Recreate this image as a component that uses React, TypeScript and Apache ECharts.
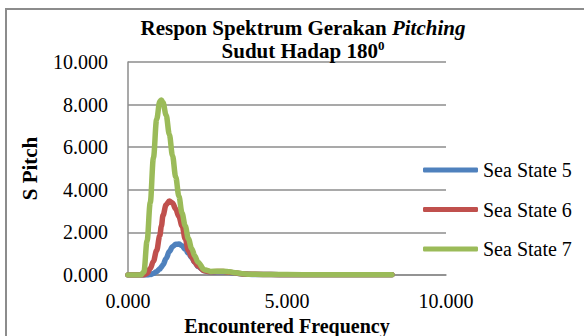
import React, { useEffect, useRef } from "react";
import * as echarts from "echarts";

const freq = [0, 0.2, 0.4, 0.5, 0.6, 0.7, 0.8, 0.9, 1.0, 1.05, 1.1, 1.2, 1.3, 1.4, 1.5, 1.6, 1.7, 1.8, 1.9, 2.0, 2.1, 2.2, 2.4, 2.6, 2.8, 3.0, 3.2, 3.4, 3.6, 3.8, 4.0, 4.5, 5.0, 6.0, 7.0, 8.3];

const seaState5 = [0, 0, 0, 0, 0, 0.02, 0.07, 0.16, 0.28, 0.37, 0.48, 0.78, 1.1, 1.33, 1.44, 1.45, 1.37, 1.2, 1.02, 0.82, 0.6, 0.4, 0.2, 0.14, 0.15, 0.15, 0.12, 0.08, 0.05, 0.03, 0.025, 0.02, 0.015, 0.01, 0.01, 0.01];
const seaState6 = [0, 0, 0, 0, 0.08, 0.3, 0.65, 1.15, 1.85, 2.3, 2.8, 3.3, 3.47, 3.38, 3.1, 2.75, 2.3, 1.7, 1.15, 0.85, 0.6, 0.42, 0.2, 0.15, 0.16, 0.16, 0.13, 0.09, 0.05, 0.035, 0.03, 0.02, 0.015, 0.01, 0.01, 0.01];
const seaState7 = [0, 0, 0, 0.15, 1.6, 3.4, 5.5, 7.3, 8.15, 8.22, 8.1, 7.5, 6.6, 5.6, 4.6, 3.7, 2.9, 2.3, 1.7, 1.25, 0.9, 0.6, 0.25, 0.17, 0.18, 0.18, 0.15, 0.1, 0.06, 0.04, 0.03, 0.025, 0.02, 0.015, 0.01, 0.01];

const seriesNames = ["Sea State 5", "Sea State 6", "Sea State 7"];
const seriesColors = ["#4F81BD", "#C0504D", "#9BBB59"];
const xTicks = [0, 5, 10];
const yTicks = [0, 2, 4, 6, 8, 10];

const FONT = "Times New Roman, Liberation Serif, serif";

export default function App() {
  const ref = useRef<HTMLDivElement>(null);
  useEffect(() => {
    if (!ref.current) return;
    const chart = echarts.init(ref.current, null, { renderer: "svg" });
    const values = [seaState5, seaState6, seaState7];
    chart.setOption({
      animation: false,
      backgroundColor: "#ffffff",
      textStyle: { fontFamily: FONT },
      title: {
        text: "{b|Respon Spektrum Gerakan }{i|Pitching}\n{b|Sudut Hadap 180}{sup|0}",
        left: 298,
        top: 11,
        textAlign: "center",
        textStyle: {
          fontFamily: FONT,
          lineHeight: 23,
          rich: {
            b: { fontFamily: FONT, fontWeight: "bold", fontSize: 21, color: "#000", lineHeight: 23 },
            i: { fontFamily: FONT, fontWeight: "bold", fontStyle: "italic", fontSize: 21, color: "#000", lineHeight: 23 },
            sup: { fontFamily: FONT, fontWeight: "bold", fontSize: 13, color: "#000", verticalAlign: "top", lineHeight: 23, padding: [0, 0, 10, 0] },
          },
        },
      },
      legend: {
        orient: "vertical",
        left: 423,
        top: 160,
        padding: 0,
        icon: "roundRect",
        itemWidth: 55,
        itemHeight: 5,
        itemGap: 19.5,
        data: seriesNames,
        textStyle: { fontFamily: FONT, fontSize: 20, color: "#000" },
      },
      grid: { left: 128, top: 62, width: 318, height: 213, outerBoundsMode: "none", containLabel: false },
      xAxis: {
        type: "value",
        min: xTicks[0],
        max: xTicks[xTicks.length - 1],
        interval: xTicks[1] - xTicks[0],
        name: "Encountered Frequency",
        nameLocation: "middle",
        nameGap: 35,
        nameTextStyle: { fontFamily: FONT, fontWeight: "bold", fontSize: 20, lineHeight: 20, color: "#000" },
        axisLine: { lineStyle: { color: "#8c8c8c", width: 1.5 } },
        axisTick: { show: false },
        splitLine: { show: false },
        axisLabel: { fontFamily: FONT, fontSize: 20, color: "#000", margin: 16, formatter: (v: number) => v.toFixed(3) },
      },
      yAxis: {
        type: "value",
        min: yTicks[0],
        max: yTicks[yTicks.length - 1],
        interval: yTicks[1] - yTicks[0],
        name: "S Pitch",
        nameLocation: "middle",
        nameRotate: 90,
        nameGap: 88,
        nameTextStyle: { fontFamily: FONT, fontWeight: "bold", fontSize: 21, color: "#000" },
        axisLine: { show: true, lineStyle: { color: "#8c8c8c", width: 1.5 } },
        axisTick: { show: false },
        splitLine: { show: true, lineStyle: { color: "#8c8c8c", width: 1.5 } },
        axisLabel: { fontFamily: FONT, fontSize: 20, color: "#000", margin: 20, formatter: (v: number) => v.toFixed(3) },
      },
      graphic: [
        {
          type: "rect",
          shape: { x: 6, y: 9, width: 700, height: 500 },
          style: { fill: "none", stroke: "#8c8c8c", lineWidth: 2 },
          silent: true,
        },
      ],
      series: seriesNames.map((name, si) => ({
        name,
        type: "line",
        data: freq.map((f, i) => [f, values[si][i]]),
        smooth: 0.35,
        smoothMonotone: "x",
        symbol: "none",
        showSymbol: false,
        color: seriesColors[si],
        itemStyle: { color: seriesColors[si] },
        lineStyle: { width: 5.5, color: seriesColors[si], cap: "round", join: "round" },
        z: 2 + si,
      })),
    });
    return () => chart.dispose();
  }, []);
  return <div ref={ref} style={{ position: "fixed", left: 0, top: 0, width: 584, height: 336 }} />;
}
